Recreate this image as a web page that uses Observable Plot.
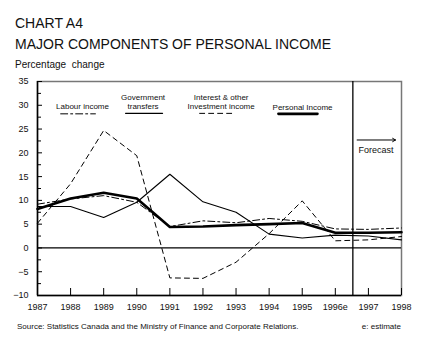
<!DOCTYPE html>
<html><head><meta charset="utf-8">
<script src="https://cdn.jsdelivr.net/npm/d3@7"></script>
<script src="https://cdn.jsdelivr.net/npm/@observablehq/plot@0.6"></script>
<style>
body{margin:0;background:#fff;font-family:"Liberation Sans",Arial,sans-serif;color:#111}
#wrap{position:relative;width:433px;height:341px;overflow:hidden;background:#fff}
.t{position:absolute;white-space:pre;left:15px}
</style></head><body>
<div id="wrap">
<div class="t" style="top:16.4px;font-size:14px;line-height:14px">CHART A4</div>
<div class="t" style="top:37.4px;font-size:14px;line-height:14px">MAJOR COMPONENTS OF PERSONAL INCOME</div>
<div class="t" style="top:59.5px;font-size:10px;line-height:10px">Percentage  change</div>
<div id="chart" style="position:absolute;left:0;top:72px"></div>
<div class="t" style="left:17px;top:322.7px;font-size:8px;line-height:8px">Source: Statistics Canada and the Ministry of Finance and Corporate Relations.</div>
<div class="t" style="left:auto;right:32px;top:322.7px;font-size:8px;line-height:8px">e: estimate</div>
</div>
<script>
const years = [1987,1988,1989,1990,1991,1992,1993,1994,1995,1996,1997,1998];
const yearLabels = ["1987","1988","1989","1990","1991","1992","1993","1994","1995","1996e","1997","1998"];
const yTicks = [-10,-5,0,5,10,15,20,25,30,35];
const yMinorTicks = [-7.5,-2.5,2.5,7.5,12.5,17.5,22.5,27.5,32.5];
const labourIncome = [9.2,10.3,11.0,9.6,4.5,5.7,5.3,6.2,5.6,4.0,3.9,4.2];
const governmentTransfers = [8.7,8.7,6.4,9.6,15.5,9.7,7.5,2.9,2.1,2.7,2.5,1.7];
const interestInvestment = [5.2,13.5,24.7,19.4,-6.3,-6.4,-3.0,3.0,9.9,1.5,1.7,2.4];
const personalIncome = [8.2,10.4,11.6,10.4,4.4,4.5,4.8,5.0,5.25,3.2,3.2,3.3];
const forecastStart = 1996.53;

const rows = years.map((yr,i)=>({year:yr, labour:labourIncome[i], gov:governmentTransfers[i], inter:interestInvestment[i], pers:personalIncome[i]}));

const labourDash = "7,3,2,3";
const interestDash = "5,4";

const chart = Plot.plot({
  width:433, height:244, marginTop:9, marginBottom:21, marginLeft:37, marginRight:32,
  x:{domain:[1987,1998]}, y:{domain:[-10,35]},
  style:{fontFamily:'"Liberation Sans",Arial,sans-serif', fontSize:"9px", color:"#111", background:"white", overflow:"visible"},
  marks:[
    Plot.frame({stroke:"#777", strokeWidth:1.5}),
    Plot.ruleY([0], {stroke:"#000", strokeWidth:1.2}),
    Plot.ruleX([forecastStart], {stroke:"#000", strokeWidth:1.3}),
    Plot.line(rows,{x:"year",y:"gov",stroke:"#000",strokeWidth:1.1}),
    Plot.line(rows,{x:"year",y:"inter",stroke:"#000",strokeWidth:1,strokeDasharray:interestDash}),
    Plot.line(rows,{x:"year",y:"labour",stroke:"#000",strokeWidth:1,strokeDasharray:labourDash}),
    Plot.line(rows,{x:"year",y:"pers",stroke:"#000",strokeWidth:2.6}),
    Plot.ruleX([1987],{stroke:"#000",strokeWidth:1.5}),
    Plot.ruleY([-10],{stroke:"#000",strokeWidth:1.5}),
    Plot.axisX(years,{anchor:"bottom",tickSize:-7,fill:"none",stroke:"#000",label:null}),
    Plot.axisX(years,{anchor:"bottom",tickSize:0,tickPadding:8,tickFormat:d=>yearLabels[years.indexOf(d)],fontSize:9,label:null}),
    Plot.axisY(yTicks,{anchor:"left",tickSize:-5,fill:"none",stroke:"#000",label:null}),
    Plot.axisY(yMinorTicks,{anchor:"left",tickSize:-4,fill:"none",stroke:"#000",label:null}),
    Plot.axisY(yTicks,{anchor:"left",tickSize:0,tickPadding:9,fontSize:9,label:null}),
    // in-chart legend
    Plot.text([{x:1988.36,y:29.8,t:"Labour income"},{x:1990.19,y:30.8,t:"Government\ntransfers"},{x:1992.55,y:30.8,t:"Interest & other\nInvestment income"},{x:1995.01,y:29.7,t:"Personal Income"}],
      {x:"x",y:"y",text:"t",fontSize:8,lineHeight:1.2,fill:"#111"}),
    Plot.line([{x:1987.70,y:28.2},{x:1988.75,y:28.2}],{x:"x",y:"y",stroke:"#000",strokeWidth:1,strokeDasharray:labourDash}),
    Plot.line([{x:1989.66,y:28.3},{x:1990.78,y:28.3}],{x:"x",y:"y",stroke:"#000",strokeWidth:1.1}),
    Plot.line([{x:1991.90,y:28.3},{x:1992.89,y:28.3}],{x:"x",y:"y",stroke:"#000",strokeWidth:1,strokeDasharray:interestDash}),
    Plot.line([{x:1994.28,y:28.2},{x:1995.46,y:28.2}],{x:"x",y:"y",stroke:"#000",strokeWidth:2.6}),
    Plot.arrow([{x1:1996.66,x2:1997.82,y:22.7}],{x1:"x1",x2:"x2",y1:"y",y2:"y",stroke:"#000",strokeWidth:1,headLength:5}),
    Plot.text([{x:1997.23,y:20.6,t:"Forecast"}],{x:"x",y:"y",text:"t",fontSize:9,fill:"#111"})
  ]
});
document.getElementById("chart").appendChild(chart);
</script>
</body></html>
